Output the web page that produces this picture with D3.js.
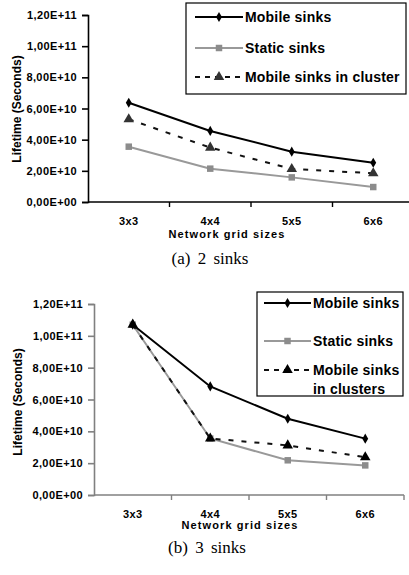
<!DOCTYPE html>
<html><head><meta charset="utf-8">
<script src="https://cdn.jsdelivr.net/npm/d3@7"></script>
<style>
html,body{margin:0;padding:0;background:#fff;}
svg{display:block;}
text{font-family:"Liberation Sans",Arial,sans-serif;font-weight:bold;fill:#000;}
.cap{font-family:"Liberation Serif","Times New Roman",serif;font-weight:normal;}
</style>
</head><body>
<script>
const categories = ["3x3", "4x4", "5x5", "6x6"];
const yTicks = [0, 2e10, 4e10, 6e10, 8e10, 1e11, 1.2e11];
const seriesNames = ["Mobile sinks", "Static sinks", "Mobile sinks in cluster"];
const seriesNames2 = ["Mobile sinks", "Static sinks", "Mobile sinks in clusters"];
// (a) 2 sinks
const mobileA  = [6.37e10, 4.56e10, 3.23e10, 2.52e10];
const staticA  = [3.55e10, 2.14e10, 1.58e10, 0.96e10];
const clusterA = [5.31e10, 3.49e10, 2.12e10, 1.84e10];
// (b) 3 sinks
const mobileB  = [1.07e11, 6.82e10, 4.79e10, 3.54e10];
const staticB  = [1.07e11, 3.55e10, 2.18e10, 1.86e10];
const clusterB = [1.07e11, 3.55e10, 3.12e10, 2.37e10];

const W = 409, H = 575;
const svg = d3.select("body").append("svg").attr("width", W).attr("height", H);

function fmt(v){
  let s = v.toExponential(2).toUpperCase();
  let [m, e] = s.split("E");
  let sign = e[0]; let d = e.slice(1).padStart(2, "0");
  return m.replace(".", ",") + "E" + sign + d;
}

function symbolPath(kind){
  if (kind === "diamond") return d3.symbol().type(d3.symbolDiamond).size(30)();
  if (kind === "square") return d3.symbol().type(d3.symbolSquare).size(42)();
  return d3.symbol().type(d3.symbolTriangle).size(48)();
}

function drawChart(cfg){
  const g = svg.append("g");
  const x = d3.scaleBand().domain(categories).range([cfg.x0, cfg.x1]);
  const y = d3.scaleLinear().domain([0, 1.2e11]).range([cfg.y0, cfg.y1]);

  // y axis
  const yAxis = d3.axisLeft(y).tickValues(yTicks).tickFormat(fmt).tickSize(6).tickPadding(5);
  const ya = g.append("g").attr("transform", `translate(${cfg.x0},0)`).call(yAxis);
  ya.select(".domain").attr("stroke", cfg.axisColor).attr("stroke-width", 1.6);
  ya.selectAll(".tick line").attr("stroke", cfg.axisColor).attr("stroke-width", 1.6);
  ya.selectAll(".tick text").attr("font-size", 11).attr("letter-spacing", 0.4)
    .attr("font-family", '"Liberation Sans",Arial,sans-serif').attr("font-weight", "bold").attr("fill", "#000");

  // x axis line
  g.append("line").attr("x1", cfg.x0).attr("x2", cfg.x1).attr("y1", cfg.y0).attr("y2", cfg.y0)
    .attr("stroke", cfg.axisColor).attr("stroke-width", 1.6);
  // tick marks at band boundaries
  g.selectAll(".xt").data(categories.slice(1).concat(["__end"])).enter().append("line")
    .attr("x1", d => d === "__end" ? cfg.x1 : x(d)).attr("x2", d => d === "__end" ? cfg.x1 : x(d))
    .attr("y1", cfg.y0).attr("y2", cfg.y0 + 5)
    .attr("stroke", cfg.axisColor).attr("stroke-width", 1.4);
  g.selectAll(".xl").data(categories).enter().append("text")
    .attr("x", d => x(d) + x.bandwidth() / 2).attr("y", cfg.y0 + cfg.catDy)
    .attr("text-anchor", "middle").attr("font-size", 11).attr("letter-spacing", 0.4).text(d => d);

  g.append("text").attr("x", cfg.xTitleX).attr("y", cfg.y0 + cfg.xTitleDy)
    .attr("text-anchor", "middle").attr("font-size", 11).attr("letter-spacing", 1.1).text("Network grid sizes");
  g.append("text").attr("transform", `translate(${cfg.yTitleX},${cfg.yTitleY}) rotate(-90)`)
    .attr("text-anchor", "middle").attr("font-size", 12).text("Lifetime (Seconds)");

  const line = d3.line().x((d, i) => x(categories[i]) + x.bandwidth() / 2).y(d => y(d));
  const series = [
    {vals: cfg.staticV, color: "#999999", mColor: "#8c8c8c", dash: null, sym: "square"},
    {vals: cfg.mobileV, color: "#000", mColor: "#000", dash: null, sym: "diamond"},
    {vals: cfg.clusterV, color: "#111", mColor: cfg.triColor, dash: "5,8", sym: "triangle"}
  ];
  series.forEach(s => {
    g.append("path").datum(s.vals).attr("d", line).attr("fill", "none")
      .attr("stroke", s.color).attr("stroke-width", 2).attr("stroke-dasharray", s.dash);
    g.selectAll(null).data(s.vals).enter().append("path")
      .attr("d", symbolPath(s.sym))
      .attr("transform", (d, i) => `translate(${x(categories[i]) + x.bandwidth() / 2},${y(d)})`)
      .attr("fill", s.mColor);
  });

  // legend
  const L = cfg.legend;
  g.append("rect").attr("x", L.x).attr("y", L.y).attr("width", L.w).attr("height", L.h)
    .attr("fill", "#fff").attr("stroke", "#000").attr("stroke-width", 1.2);
  const items = [
    {name: cfg.names[0], color: "#000", mColor: "#000", dash: null, sym: "diamond"},
    {name: cfg.names[1], color: "#999999", mColor: "#8c8c8c", dash: null, sym: "square"},
    {name: cfg.names[2], color: "#111", mColor: cfg.triColor, dash: "5,5", sym: "triangle"}
  ];
  items.forEach((it, i) => {
    const yy = L.rows[i];
    g.append("line").attr("x1", L.lx0).attr("x2", L.lx1).attr("y1", yy).attr("y2", yy)
      .attr("stroke", it.color).attr("stroke-width", 2).attr("stroke-dasharray", it.dash);
    g.append("path").attr("d", symbolPath(it.sym)).attr("transform", `translate(${(L.lx0 + L.lx1) / 2},${yy})`)
      .attr("fill", it.mColor);
    const lines = Array.isArray(it.name) ? it.name : [it.name];
    const t = g.append("text").attr("x", L.tx).attr("y", yy + 5).attr("font-size", 14).attr("letter-spacing", 0.2);
    lines.forEach((ln, k) => t.append("tspan").attr("x", L.tx + (k ? L.indent : 0)).attr("dy", k ? L.lineH : 0).text(ln));
  });

  g.append("text").attr("class", "cap").attr("x", cfg.capX).attr("y", cfg.capY)
    .attr("text-anchor", "middle").attr("font-size", 17).attr("word-spacing", 3).text(cfg.caption);
}

drawChart({
  x0: 88, x1: 414, y0: 202, y1: 15, axisColor: "#000",
  catDy: 23, xTitleX: 227, xTitleDy: 36, yTitleX: 21, yTitleY: 109,
  mobileV: mobileA, staticV: staticA, clusterV: clusterA, triColor: "#333",
  names: seriesNames,
  legend: {x: 186, y: 3, w: 220, h: 91, rows: [17, 48, 77], lx0: 195, lx1: 243, tx: 245, indent: 0, lineH: 0},
  caption: "(a) 2 sinks", capX: 210, capY: 264
});

drawChart({
  x0: 94, x1: 404, y0: 495, y1: 304, axisColor: "#808080",
  catDy: 23, xTitleX: 240, xTitleDy: 34, yTitleX: 22, yTitleY: 402,
  mobileV: mobileB, staticV: staticB, clusterV: clusterB, triColor: "#000",
  names: [seriesNames2[0], seriesNames2[1], ["Mobile sinks", "in clusters"]],
  legend: {x: 257, y: 292, w: 146, h: 104, rows: [303, 341, 370], lx0: 264, lx1: 311, tx: 313, indent: 0, lineH: 19},
  caption: "(b) 3 sinks", capX: 207, capY: 553
});
</script>
</body></html>
